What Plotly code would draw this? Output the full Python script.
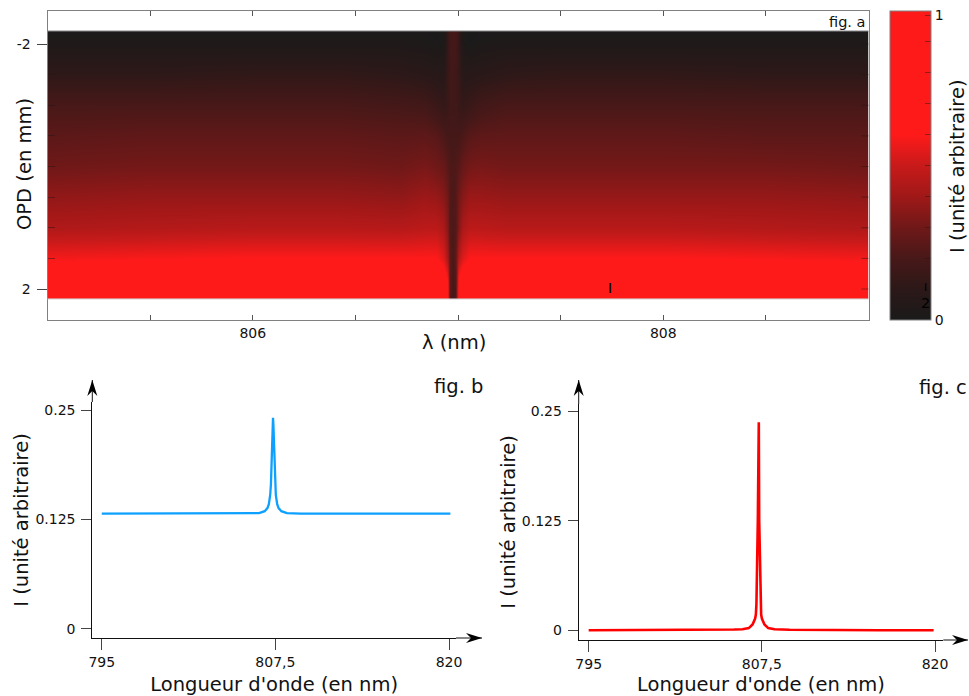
import plotly.graph_objects as go

W, H = 969, 696
FONT = "DejaVu Sans"

# ---- fig. a : interferogram ----
wavelength_a = [804.9995, 805.0, 805.5, 806, 806.424, 806.72, 806.84, 806.895, 806.93, 806.95, 806.96, 806.975,
                806.99, 807.0, 807.02, 807.055, 807.11, 807.23, 807.5, 808, 808.5, 809, 809.0005]
opd_a = [-2.212, -2.21, -2.0, -1.5, -1.0, -0.5, 0.0, 0.5, 1.0, 1.5, 2.0, 2.16, 2.162]
intensity_a = [
    [0.01, 0.01, 0.01, 0.01, 0.01, 0.01, 0.01, 0.00, 0.02, 0.13, 0.18, 0.20, 0.18, 0.13, 0.02, 0.00, 0.01, 0.01, 0.01, 0.01, 0.01, 0.01, 0.01],
    [0.01, 0.01, 0.01, 0.01, 0.01, 0.01, 0.01, 0.00, 0.02, 0.13, 0.18, 0.20, 0.18, 0.13, 0.02, 0.00, 0.01, 0.01, 0.01, 0.01, 0.01, 0.01, 0.01],
    [0.03, 0.03, 0.03, 0.03, 0.03, 0.03, 0.02, 0.01, 0.03, 0.13, 0.18, 0.19, 0.18, 0.13, 0.03, 0.01, 0.02, 0.03, 0.03, 0.03, 0.03, 0.03, 0.03],
    [0.11, 0.11, 0.11, 0.12, 0.12, 0.105, 0.09, 0.08, 0.08, 0.14, 0.17, 0.18, 0.17, 0.14, 0.08, 0.08, 0.09, 0.11, 0.12, 0.12, 0.11, 0.11, 0.11],
    [0.20, 0.20, 0.20, 0.20, 0.20, 0.19, 0.18, 0.15, 0.13, 0.15, 0.17, 0.17, 0.17, 0.15, 0.13, 0.15, 0.18, 0.20, 0.20, 0.20, 0.20, 0.20, 0.20],
    [0.25, 0.25, 0.26, 0.26, 0.26, 0.25, 0.255, 0.24, 0.21, 0.19, 0.19, 0.19, 0.19, 0.19, 0.21, 0.24, 0.255, 0.26, 0.26, 0.26, 0.25, 0.25, 0.25],
    [0.30, 0.30, 0.31, 0.31, 0.31, 0.30, 0.32, 0.30, 0.28, 0.24, 0.22, 0.21, 0.22, 0.24, 0.28, 0.31, 0.32, 0.31, 0.31, 0.31, 0.31, 0.30, 0.30],
    [0.37, 0.37, 0.38, 0.38, 0.38, 0.37, 0.395, 0.38, 0.35, 0.30, 0.23, 0.21, 0.23, 0.30, 0.35, 0.39, 0.39, 0.38, 0.38, 0.38, 0.38, 0.37, 0.37],
    [0.44, 0.44, 0.45, 0.46, 0.46, 0.455, 0.47, 0.47, 0.43, 0.34, 0.23, 0.21, 0.23, 0.34, 0.43, 0.47, 0.47, 0.46, 0.46, 0.46, 0.45, 0.44, 0.44],
    [0.58, 0.58, 0.59, 0.60, 0.60, 0.60, 0.60, 0.60, 0.54, 0.42, 0.26, 0.20, 0.26, 0.46, 0.54, 0.60, 0.60, 0.60, 0.60, 0.60, 0.59, 0.58, 0.58],
    [0.75, 0.75, 0.76, 0.76, 0.76, 0.76, 0.76, 0.76, 0.75, 0.66, 0.26, 0.19, 0.22, 0.68, 0.75, 0.76, 0.76, 0.76, 0.76, 0.76, 0.76, 0.75, 0.75],
    [0.80, 0.80, 0.80, 0.80, 0.80, 0.80, 0.80, 0.80, 0.78, 0.70, 0.24, 0.18, 0.22, 0.70, 0.78, 0.80, 0.80, 0.80, 0.80, 0.80, 0.80, 0.80, 0.80],
    [0.80, 0.80, 0.80, 0.80, 0.80, 0.80, 0.80, 0.80, 0.78, 0.70, 0.24, 0.18, 0.22, 0.70, 0.78, 0.80, 0.80, 0.80, 0.80, 0.80, 0.80, 0.80, 0.80],
]
x_ticks_a = [805.5, 806, 806.5, 807, 807.5, 808, 808.5]
x_labels_a = ["", "806", "", "", "", "808", ""]
y_major_a = [-2, 2]
y_minor_a = [-1.5, -1, -0.5, 0, 0.5, 1, 1.5]
cbar_ticks = [0, 0.1, 0.2, 0.3, 0.4, 0.5, 0.6, 0.7, 0.8, 0.9, 0.987]
cbar_labels = ["0", "", "", "", "", "", "", "", "", "", "1"]
color_stops = [[0, "#1a1a1a"], [0.1, "#2c1818"], [0.2, "#481818"], [0.3, "#701818"], [0.4, "#a01818"],
               [0.5, "#c81a1a"], [0.6, "#ff1a1a"], [1, "#ff1a1a"]]

# ---- fig. b ----
wavelength_b = [795, 800, 804, 805.33, 806.33, 806.73, 806.93, 807.03, 807.13, 807.18, 807.23, 807.27, 807.3, 807.33,
                807.36, 807.39, 807.43, 807.48, 807.53, 807.63, 807.73, 807.93, 808.33, 809.33, 812, 816, 820.1]
signal_b = [0.1316, 0.1316, 0.1316, 0.1318, 0.1322, 0.1345, 0.138, 0.1425, 0.1535, 0.1653, 0.1865, 0.2124, 0.2324, 0.2412,
            0.2324, 0.2124, 0.1865, 0.1653, 0.1535, 0.1425, 0.138, 0.1345, 0.1322, 0.1318, 0.1316, 0.1316, 0.1316]

# ---- fig. c ----
wavelength_c = [795, 800, 804.3, 805.5, 806.1, 806.56, 806.83, 807.01, 807.07, 807.11, 807.21, 807.24, 807.28, 807.31,
                807.41, 807.45, 807.51, 807.69, 807.96, 808.42, 809.5, 812, 816, 819.9]
signal_c = [0.0, 0.0, 0.0002, 0.0008, 0.0012, 0.0025, 0.0065, 0.013, 0.018, 0.03, 0.125, 0.2372, 0.2372, 0.125,
            0.03, 0.018, 0.013, 0.0065, 0.0025, 0.0012, 0.0006, 0.0002, 0.0, 0.0]

x_ticks_bc = [795, 807.5, 820]
x_labels_bc = ["795", "807,5", "820"]
y_ticks_bc = [0, 0.125, 0.25]
y_labels_bc = ["0", "0.125", "0.25"]


def fx(px):
    return px / W


def fy(px):
    return 1 - px / H


tick_font = dict(family=FONT, size=14, color="#111111")
title_font = dict(family=FONT, size=19.5, color="#111111")

fig = go.Figure()

fig.add_trace(go.Heatmap(
    x=wavelength_a, y=opd_a, z=intensity_a, zmin=0, zmax=1, zsmooth="best",
    colorscale=color_stops, xaxis="x", yaxis="y", hoverinfo="skip",
    colorbar=dict(
        x=fx(890), xanchor="left", xref="paper", y=fy(320), yanchor="bottom", yref="paper",
        len=309 / H, lenmode="fraction", thickness=41, thicknessmode="pixels", xpad=0, ypad=0,
        outlinecolor="#808080", outlinewidth=1, tickmode="array", tickvals=cbar_ticks, ticktext=cbar_labels,
        ticks="inside", ticklen=6, tickcolor="rgba(30,20,20,0.45)", tickfont=tick_font,
    ),
))
fig.add_trace(go.Scatter(x=wavelength_b, y=signal_b, mode="lines", line=dict(color="#0da0ff", width=2.3),
                         xaxis="x2", yaxis="y2", showlegend=False))
fig.add_trace(go.Scatter(x=wavelength_c, y=signal_c, mode="lines", line=dict(color="#ff0000", width=2.6),
                         xaxis="x3", yaxis="y3", showlegend=False))

axis_common = dict(showgrid=False, zeroline=False, tickfont=tick_font, title_font=title_font)

fig.update_layout(
    width=W, height=H, margin=dict(l=0, r=0, t=0, b=0, autoexpand=False), paper_bgcolor="white", plot_bgcolor="white",
    showlegend=False, font=dict(family=FONT),
    xaxis=dict(domain=[fx(47.5), fx(868.5)], range=[805, 809], tickmode="array", tickvals=x_ticks_a,
               ticktext=x_labels_a, ticks="inside", ticklen=5, tickcolor="#555555", showline=True,
               linecolor="#808080", mirror="allticks", anchor="y", **axis_common),
    yaxis=dict(domain=[fy(320), fy(11)], range=[2.506, -2.539], tickmode="array", tickvals=y_major_a,
               ticktext=["-2", "2"], ticks="outside", ticklen=10, tickcolor="#444444", showline=True,
               linecolor="#808080", mirror=True, anchor="x", ticklabelstandoff=3,
               minor=dict(tickmode="array", tickvals=y_minor_a, ticks="inside", ticklen=7,
                          tickcolor="rgba(30,20,20,0.45)"),
               **axis_common),
    xaxis2=dict(domain=[fx(92.3), fx(456)], range=[794.32, 820 + 7 / 13.89], tickmode="array", tickvals=x_ticks_bc,
                ticktext=x_labels_bc, ticks="outside", ticklen=11, tickcolor="#444444", showline=True,
                linecolor="#111111", anchor="y2", title=dict(text="Longueur d'onde (en nm)", standoff=8),
                **axis_common),
    yaxis2=dict(domain=[fy(638), fy(402)], range=[-0.0106, 0.2594], tickmode="array", tickvals=y_ticks_bc,
                ticktext=y_labels_bc, ticks="outside", ticklen=10, tickcolor="#444444", showline=True,
                linecolor="#111111", anchor="x2", ticklabelstandoff=3, title=dict(text="I (unité arbitraire)", standoff=1),
                **axis_common),
    xaxis3=dict(domain=[fx(578.7), fx(943.3)], range=[794.28, 820 + 8.3 / 13.85], tickmode="array", tickvals=x_ticks_bc,
                ticktext=x_labels_bc, ticks="outside", ticklen=11, tickcolor="#444444", showline=True,
                linecolor="#111111", anchor="y3", title=dict(text="Longueur d'onde (en nm)", standoff=8),
                **axis_common),
    yaxis3=dict(domain=[fy(640), fy(404)], range=[-0.0111, 0.2581], tickmode="array", tickvals=y_ticks_bc,
                ticktext=y_labels_bc, ticks="outside", ticklen=10, tickcolor="#444444", showline=True,
                linecolor="#111111", anchor="x3", ticklabelstandoff=3, title=dict(text="I (unité arbitraire)", standoff=0),
                **axis_common),
)

# right-hand inner ticks of fig. a and thin edges of the image
for v in y_minor_a + y_major_a:
    fig.add_shape(type="line", xref="x domain", yref="y", x0=1, x1=1 - 7 / 821, y0=v, y1=v,
                  line=dict(color="rgba(30,20,20,0.45)", width=1))
for v, c in [(opd_a[0], "#8a8a8a"), (opd_a[-1], "#cccccc")]:
    fig.add_shape(type="line", xref="x domain", yref="y", x0=0, x1=1, y0=v, y1=v, line=dict(color=c, width=1))


def text(s, xpx, ypx, size, angle=0, color="#111111"):
    fig.add_annotation(text=s, x=fx(xpx), y=fy(ypx), xref="paper", yref="paper", showarrow=False, textangle=angle,
                       xanchor="center", yanchor="middle", font=dict(family=FONT, size=size, color=color))


text("OPD (en mm)", 24, 164, 19.5, -90)
text("λ (nm)", 454, 342, 19.5)
text("I (unité arbitraire)", 957, 166, 19.5, -90)
text("fig. a", 847, 22, 14.5)
text("fig. b", 458, 386, 19.5)
text("fig. c", 943, 387, 19.5)
text("I", 610, 287.5, 14, color="#000000")
text("I", 925, 287, 11, color="#000000")
text("2", 925, 303, 14.5, color="#000000")


def arrow(x_tip, y_tip, x_tail, y_tail, dx, dy):
    # axis prolongation
    fig.add_shape(type="line", xref="paper", yref="paper", x0=fx(x_tail), y0=fy(y_tail), x1=fx(x_tip), y1=fy(y_tip),
                  line=dict(color="#111111", width=1))
    # stealth head pointing along (dx, dy)
    nx, ny = -dy, dx
    pts = [(x_tip, y_tip),
           (x_tip - 16 * dx + 5 * nx, y_tip - 16 * dy + 5 * ny),
           (x_tip - 11 * dx, y_tip - 11 * dy),
           (x_tip - 16 * dx - 5 * nx, y_tip - 16 * dy - 5 * ny)]
    path = "M" + " L".join(f"{fx(a):.5f},{fy(b):.5f}" for a, b in pts) + " Z"
    fig.add_shape(type="path", xref="paper", yref="paper", path=path, fillcolor="#000000", line=dict(width=0))


arrow(482, 638, 456, 638, 1, 0)
arrow(92.3, 380, 92.3, 402, 0, -1)
arrow(968, 640, 943.3, 640, 1, 0)
arrow(578.7, 380, 578.7, 404, 0, -1)

post = ("document.body.style.margin='0';document.body.style.overflow='hidden';"
        "var gd=document.querySelector('.plotly-graph-div');"
        "function up(){var g=document.querySelector('.infolayer');"
        "g.querySelectorAll('.annotation').forEach(function(a){g.appendChild(a);});}"
        "up();setTimeout(up,200);")
fig.write_html("out.html", config={"displayModeBar": False}, post_script=post)
